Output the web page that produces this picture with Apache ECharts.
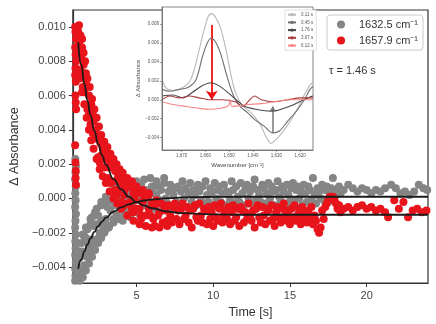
<!DOCTYPE html>
<html><head><meta charset="utf-8">
<script src="https://cdn.jsdelivr.net/npm/echarts@6/dist/echarts.min.js"></script>
<style>html,body{margin:0;padding:0;background:#fff}#c{width:436px;height:324px}</style>
</head><body><div id="c"></div>
<script>
// ---------- main kinetics data ----------
const times = [1.1,1.2,1.3,1.4,1.5,1.6,1.7,1.8,1.9,2.0,
2.1,2.2,2.3,2.4,2.5,2.6,2.7,2.8,2.9,3.0,
3.1,3.2,3.3,3.4,3.5,3.6,3.7,3.8,3.9,4.0,
4.1,4.2,4.3,4.4,4.5,4.6,4.7,4.8,4.9,5.0,
5.1,5.2,5.3,5.4,5.5,5.6,5.7,5.8,5.9,6.0,
6.1,6.2,6.3,6.4,6.5,6.6,6.7,6.8,6.9,7.0,
7.1,7.2,7.3,7.4,7.5,7.6,7.7,7.8,7.9,8.0,
8.1,8.2,8.3,8.4,8.5,8.6,8.7,8.8,8.9,9.0,
9.1,9.2,9.3,9.4,9.5,9.6,9.7,9.8,9.9,10.0,
10.1,10.2,10.3,10.4,10.5,10.6,10.7,10.8,10.9,11.0,
11.1,11.2,11.3,11.4,11.5,11.6,11.7,11.8,11.9,12.0,
12.1,12.2,12.3,12.4,12.5,12.6,12.7,12.8,12.9,13.0,
13.1,13.2,13.3,13.4,13.5,13.6,13.7,13.8,13.9,14.0,
14.1,14.2,14.3,14.4,14.5,14.6,14.7,14.8,14.9,15.0,
15.1,15.2,15.3,15.4,15.5,15.6,15.7,15.8,15.9,16.0,
16.1,16.2,16.3,16.4,16.5,16.6,16.7,16.8,16.9,17.0,
17.1,17.2,17.3,17.4,17.5,17.6,17.7,17.8,17.9,18.0,
18.1,18.2,18.3];
const grayValues = [-0.0039,-0.0044,-0.0031,-0.0042,-0.0031,-0.0039,-0.0023,-0.0026,-0.0029,-0.0015,
-0.0024,-0.0016,-0.0026,-0.0015,-0.0010,-0.0020,-0.0013,-0.0016,-0.0003,-0.0012,
-0.0005,-0.0016,-0.0007,-0.0001,-0.0012,-0.0004,-0.0009,0.0002,-0.0011,-0.0001,
0.0001,-0.0007,-0.0003,0.0004,-0.0009,0.0000,-0.0004,0.0004,0.0000,-0.0006,
0.0003,-0.0009,0.0008,0.0000,-0.0004,0.0005,-0.0003,0.0003,-0.0006,0.0007,
0.0003,-0.0006,0.0002,0.0007,-0.0001,0.0005,-0.0004,0.0009,0.0000,-0.0003,
0.0004,0.0008,-0.0005,0.0002,0.0006,-0.0002,0.0007,-0.0004,0.0004,0.0010,
0.0000,0.0006,-0.0005,0.0003,0.0009,-0.0002,0.0005,0.0002,-0.0004,0.0008,
0.0004,-0.0001,0.0007,-0.0003,0.0010,0.0002,-0.0002,0.0006,0.0003,-0.0005,
0.0009,0.0000,0.0005,0.0007,-0.0002,0.0003,0.0008,-0.0004,0.0004,0.0002,
-0.0001,0.0010,0.0005,-0.0003,0.0007,0.0001,-0.0002,0.0009,0.0003,-0.0004,
0.0006,0.0008,0.0000,0.0004,-0.0003,0.0007,0.0011,-0.0001,0.0005,0.0002,
-0.0002,0.0008,0.0006,-0.0003,0.0003,0.0009,0.0000,0.0007,0.0004,-0.0004,
0.0005,0.0010,0.0001,-0.0001,0.0007,0.0004,-0.0003,0.0008,0.0002,-0.0002,
0.0006,0.0009,-0.0001,0.0005,0.0007,0.0000,0.0004,-0.0004,0.0008,0.0003,
-0.0002,0.0007,0.0005,-0.0001,0.0012,0.0002,-0.0003,0.0006,0.0004,0.0000,
0.0008,-0.0001,0.0005,0.0007,-0.0002,0.0003,0.0006,0.0012,0.0004,0.0002,
0.0005,0.0007,0.0003];
const redValues = [0.0094,0.0097,0.0082,0.0083,0.0065,0.0070,0.0070,0.0052,0.0054,0.0043,
0.0049,0.0048,0.0035,0.0037,0.0024,0.0034,0.0025,0.0030,0.0018,0.0023,
0.0012,0.0018,0.0019,0.0010,0.0018,0.0005,0.0010,0.0005,0.0012,-0.0002,
0.0008,0.0002,0.0006,-0.0003,0.0007,-0.0002,-0.0006,0.0003,-0.0001,-0.0006,
0.0003,-0.0006,-0.0010,-0.0002,0.0000,-0.0010,0.0001,-0.0006,-0.0010,-0.0003,
-0.0012,-0.0004,-0.0001,-0.0010,-0.0008,-0.0003,-0.0014,-0.0004,-0.0007,-0.0013,
-0.0004,-0.0010,-0.0014,-0.0005,-0.0003,-0.0012,-0.0007,-0.0015,-0.0006,-0.0003,
-0.0012,-0.0010,-0.0005,-0.0014,-0.0007,-0.0017,-0.0006,-0.0004,-0.0011,-0.0013,
-0.0003,-0.0010,-0.0014,-0.0006,-0.0007,-0.0015,-0.0005,-0.0012,-0.0008,-0.0016,
-0.0004,-0.0011,-0.0013,-0.0006,-0.0003,-0.0014,-0.0010,-0.0007,-0.0012,-0.0005,
-0.0015,-0.0008,-0.0004,-0.0013,-0.0011,-0.0006,-0.0016,-0.0005,-0.0007,-0.0014,
-0.0008,-0.0012,-0.0003,-0.0010,-0.0013,-0.0007,-0.0017,-0.0006,-0.0004,-0.0011,
-0.0014,-0.0005,-0.0010,-0.0015,-0.0006,-0.0007,-0.0013,-0.0004,-0.0012,-0.0016,
-0.0008,-0.0005,-0.0011,-0.0014,-0.0006,-0.0003,-0.0010,-0.0013,-0.0007,-0.0015,
-0.0006,-0.0011,-0.0004,-0.0013,-0.0010,-0.0007,-0.0015,-0.0005,-0.0012,-0.0008,
-0.0014,-0.0007,-0.0012,-0.0005,-0.0015,-0.0010,-0.0013,-0.0018,-0.0020,-0.0017,
-0.0007,-0.0012,-0.0005,-0.0003,-0.0001,0.0001,0.0000,0.0001,-0.0001,-0.0003,
-0.0006,-0.0004,-0.0008];
const grayExtraTimes = [1.0,1.02,1.0,1.04,1.0,1.03,1.01,1.04,1.0,1.02,1.05,1.0,1.03,1.01,1.04,1.0,1.02,1.05,1.01,
1.15,1.3,1.45,1.25,1.6,1.75,1.5,1.9,2.05,1.7,2.2,2.0,2.4,2.6,2.3,2.8,2.7,3.0,3.2,3.1,3.5,3.9,4.3,4.1,4.6,5.2,5.9,5.0,4.0,
1.3,1.5,1.7,1.9,2.1,2.3,2.5,2.7,2.9,3.2,3.5,3.8,4.2,4.6,5.0,
1.4,1.6,1.8,2.1,2.4,2.7,3.0,3.3,3.6,4.4,4.8,5.5,6.3,6.8];
const grayExtraValues = [-0.0048,-0.0045,-0.0041,-0.0037,-0.0033,-0.0029,-0.0025,-0.0021,-0.0017,-0.0013,-0.0009,-0.0005,-0.0001,0.0003,0.0007,0.0011,0.0015,0.0019,0.0023,
-0.0047,-0.0046,-0.0044,-0.0035,-0.0040,-0.0034,-0.0021,-0.0033,-0.0030,-0.0017,-0.0027,-0.0012,-0.0024,-0.0022,-0.0008,-0.0020,-0.0004,-0.0018,-0.0016,-0.0001,0.0003,0.0006,0.0009,-0.0013,-0.0011,-0.0009,0.0012,0.0010,0.0004,
-0.0048,-0.0046,-0.0042,-0.0038,-0.0034,-0.0030,-0.0026,-0.0023,-0.0020,-0.0017,-0.0014,-0.0012,-0.0010,-0.0008,-0.0007,
-0.0026,-0.0022,-0.0018,-0.0011,-0.0006,-0.0002,0.0001,0.0004,0.0007,0.0010,0.0008,0.0011,0.0010,0.0012];
const redExtraTimes = [1.0,1.02,1.05,1.0,1.03,1.06,1.02,1.0,1.04,1.02,1.04,1.06,1.0,1.02,1.04,1.03,1.05,
1.3,1.45,1.35,1.55,1.6,1.75,1.9,2.05,1.85,2.2,2.35,2.5,2.15,2.65,2.8,3.0,2.6,3.2,3.4,3.6,3.3,3.8,4.0,3.7,4.3,4.6,4.2,5.0,4.8,5.4,5.3,5.8,6.2,
1.15,1.25,1.35,1.45,1.2,1.4,1.55,1.65,1.5,1.7,1.8,1.95,2.1,2.25,2.4,2.55,2.7,2.9,3.1,3.3,3.5,3.7,3.9,4.1,4.4,4.7,5.0,5.4,5.8,
1.3,1.45,1.6,1.75,1.9,2.05,2.2,2.4,2.6,2.8,3.0,3.25,3.5,3.75,4.0,4.4,4.8,5.2,5.6,6.0,6.5,7.0];
const redExtraValues = [0.0100,0.0097,0.0093,0.0088,0.0084,0.0080,0.0076,0.0072,0.0068,0.0060,0.0056,0.0052,0.0031,0.0021,0.0016,0.0012,0.0008,
0.0092,0.0088,0.0075,0.0078,0.0062,0.0066,0.0060,0.0055,0.0048,0.0045,0.0040,0.0036,0.0038,0.0032,0.0029,0.0026,0.0021,0.0022,0.0019,0.0016,0.0009,0.0013,0.0011,0.0002,0.0009,0.0007,-0.0004,0.0005,-0.0008,0.0004,-0.0012,0.0002,-0.0016,
0.0098,0.0101,0.0095,0.0093,0.0089,0.0086,0.0085,0.0080,0.0072,0.0073,0.0070,0.0065,0.0058,0.0052,0.0047,0.0042,0.0037,0.0033,0.0030,0.0026,0.0023,0.0020,0.0017,0.0015,0.0012,0.0010,0.0007,0.0005,0.0003,
0.0070,0.0062,0.0055,0.0047,0.0040,0.0034,0.0029,0.0023,0.0017,0.0013,0.0009,0.0004,0.0000,-0.0003,-0.0006,-0.0010,-0.0013,-0.0015,-0.0016,-0.0017,-0.0017,-0.0016];
const graySparseTimes = [18.5,18.8,19.1,19.4,19.7,20.0,20.3,20.6,20.9,21.2,21.6,21.9,22.2,22.5,22.8,23.1,23.4,23.7,23.95];
const graySparseValues = [0.0005,0.0008,0.0006,0.0004,0.0006,0.0005,0.0003,0.0005,0.0004,0.0006,0.0008,0.0006,0.0003,0.0004,0.0002,0.0004,0.0008,0.0006,0.0005];
const redSparseTimes = [18.5,18.8,19.1,19.4,19.7,20.0,20.3,20.6,20.9,21.2,21.4,21.8,22.1,22.4,22.7,23.0,23.3,23.6,23.9];
const redSparseValues = [-0.0006,-0.0005,-0.0007,-0.0005,-0.0004,-0.0006,-0.0005,-0.0007,-0.0006,-0.0008,-0.0011,-0.0001,-0.0006,-0.0002,-0.0011,-0.0007,-0.0006,-0.0008,-0.0007];
const fitTimes = [1.2,1.4,1.6,1.8,2.0,2.25,2.5,2.75,3.0,3.5,4.0,4.5,5.0,5.5,6.0,7.0,8.0,9.0,10.0,12.0,15.0,18.0,21.0,24.0];
const grayFit = [-0.0041,-0.00356,-0.00309,-0.00268,-0.00233,-0.00195,-0.00162,-0.00135,-0.00112,-0.00077,-0.00052,-0.00034,-0.00021,-0.00012,-0.00006,0.00002,0.00006,0.00008,0.00009,0.0001,0.0001,0.0001,0.0001,0.0001];
const redFit = [0.0091,0.00781,0.00669,0.00571,0.00486,0.00395,0.00317,0.00253,0.00197,0.00113,0.00053,0.0001,-0.00021,-0.00042,-0.00057,-0.00076,-0.00085,-0.0009,-0.00093,-0.00095,-0.00095,-0.00095,-0.00095,-0.00095];
const seriesNames = ['1632.5 cm\u207B\u00B9', '1657.9 cm\u207B\u00B9'];
const tauText = '\u03C4 = 1.46 s';
const mainXTicks = [5,10,15,20];
const mainYTicks = [-0.004,-0.002,0,0.002,0.004,0.006,0.008,0.010];

// ---------- inset spectra ----------
const spectrumNames = ['0.11 s','0.45 s','1.76 s','3.07 s','6.12 s'];
const specAW = [1678.3,1676.4,1672.9,1669.5,1666.7,1664.7,1662.6,1660.5,1658.8,1657.4,1655.7,1653.6,1651.3,1649.1,1647.2,1644.7,1640.6,1637.1,1634.4,1632.3,1630.2,1626.8,1622.6,1618.5,1616.0,1614.6];
const specAV = [0.0022,0.0012,0.0010,0.0013,0.0019,0.0032,0.0053,0.0074,0.0088,0.0091,0.0087,0.0076,0.0053,0.0025,0.0007,-0.0005,-0.0014,-0.0025,-0.0039,-0.0046,-0.0042,-0.0032,-0.0016,0.0004,0.0015,0.0019];
const specBW = [1678.3,1675.0,1670.9,1667.4,1664.0,1661.2,1659.2,1657.5,1655.7,1653.6,1650.9,1648.1,1645.4,1642.0,1639.2,1635.1,1631.6,1628.8,1625.4,1621.3,1617.8,1615.9,1614.6];
const specBV = [0.0011,0.0009,0.0011,0.0013,0.0021,0.0046,0.0060,0.0065,0.0061,0.0049,0.0025,0.0004,-0.0007,-0.0014,-0.0021,-0.0028,-0.0035,-0.0033,-0.0023,-0.0011,0.0002,0.0011,0.0014];
const specCW = [1678.3,1673.6,1669.5,1665.4,1661.2,1657.8,1654.3,1650.2,1646.1,1643.3,1636.4,1631.6,1626.8,1622.6,1618.5,1615.9,1614.6];
const specCV = [0.0004,0.0005,0.0002,0.0008,0.0015,0.0018,0.0015,0.0007,-0.0002,-0.0007,-0.0011,-0.0012,-0.0009,-0.0005,0.0000,0.0003,0.0004];
const specDW = [1678.3,1675.0,1670.9,1666.8,1662.6,1657.8,1653.0,1647.5,1644.1,1642.0,1639.2,1636.4,1630.9,1625.4,1619.9,1614.6];
const specDV = [0.0000,0.0004,0.0002,0.0004,0.0002,0.0000,0.0000,-0.0002,-0.0007,-0.0002,0.0004,0.0000,-0.0002,0.0000,0.0002,0.0002];
const specEW = [1678.3,1673.6,1668.1,1662.6,1657.8,1653.6,1650.2,1649.5,1648.8,1645.4,1642.0,1636.4,1630.9,1624.0,1614.6];
const specEV = [-0.0002,-0.0005,-0.0007,-0.0009,-0.0010,-0.0009,-0.0006,0.0000,-0.0007,-0.0006,-0.0005,-0.0004,-0.0002,0.0000,0.0000];
const redArrow = {w: 1657.3, from: 0.0079, to: 0.0000};
const grayArrow = {w: 1631.6, from: -0.0035, to: -0.0007};
const insetXTicks = [1620,1630,1640,1650,1660,1670];
const insetYTicks = [-0.004,-0.002,0,0.002,0.004,0.006,0.008];

// ---------- build ----------
const FONT = 'Liberation Sans, Arial, Helvetica, sans-serif';
const pairs = (xs, ys) => xs.map((x, i) => [x, ys[i]]);
const fmt3 = v => (v < 0 ? '\u2212' : '') + Math.abs(v).toFixed(3);

const grayData = pairs(grayExtraTimes, grayExtraValues).concat(pairs(times, grayValues), pairs(graySparseTimes, graySparseValues));
const redData = pairs(redExtraTimes, redExtraValues).concat(pairs(times, redValues), pairs(redSparseTimes, redSparseValues));

const specColors = ['#b8b8b8','#707070','#484848','#a83c3c','#f58787'];
const specSets = [[specAW,specAV],[specBW,specBV],[specCW,specCV],[specDW,specDV],[specEW,specEV]];

const specSeries = specSets.map((s, i) => ({
  name: spectrumNames[i], type: 'line', xAxisIndex: 1, yAxisIndex: 1,
  data: pairs(s[0], s[1]), smooth: 0.3, symbol: 'none', z: 5,
  lineStyle: {color: specColors[i], width: 1.1}, itemStyle: {color: specColors[i]},
  silent: true, animation: false
}));
specSeries[0].markLine = {
  silent: true, symbol: ['none','arrow'], symbolSize: 9, animation: false,
  label: {show: false},
  lineStyle: {color: '#ee1111', width: 1.8, type: 'solid'},
  data: [[{coord: [redArrow.w, redArrow.from]}, {coord: [redArrow.w, redArrow.to]}]]
};
specSeries[1].markLine = {
  silent: true, symbol: ['none','arrow'], symbolSize: 5, animation: false,
  label: {show: false},
  lineStyle: {color: '#777', width: 1.5, type: 'solid'},
  data: [[{coord: [grayArrow.w, grayArrow.from]}, {coord: [grayArrow.w, grayArrow.to]}]]
};

const chart = echarts.init(document.getElementById('c'), null, {renderer: 'canvas'});
chart.setOption({
  animation: false,
  backgroundColor: '#fff',
  textStyle: {fontFamily: FONT},
  grid: [
    {left: 60, top: 10, right: 8, bottom: 41, show: true, borderColor: '#333', borderWidth: 1.2, backgroundColor: 'transparent'},
    {left: 162, top: 7, width: 151, height: 143, show: true, borderColor: '#666', borderWidth: 0.8, backgroundColor: '#fff', z: 4}
  ],
  xAxis: [
    {gridIndex: 0, type: 'value', min: 0.85, max: 24.0,
     name: 'Time [s]', nameLocation: 'middle', nameGap: 22,
     nameTextStyle: {fontSize: 12.5, color: '#333', fontFamily: FONT},
     axisLine: {show: true, onZero: false, lineStyle: {color: '#333', width: 1.2}},
     axisTick: {show: true, length: 4, customValues: mainXTicks, lineStyle: {color: '#333'}},
     axisLabel: {customValues: mainXTicks, fontSize: 11, color: '#444', margin: 7, fontFamily: FONT},
     splitLine: {show: false}},
    {gridIndex: 1, type: 'value', inverse: true, min: 1614.6, max: 1678.3,
     name: 'Wavenumber [cm\u207B\u00B9]', nameLocation: 'middle', nameGap: 12,
     nameTextStyle: {fontSize: 6, color: '#444', fontFamily: FONT},
     axisLine: {show: true, onZero: false, lineStyle: {color: '#666', width: 0.8}},
     axisTick: {show: true, length: 2, customValues: insetXTicks, lineStyle: {color: '#666', width: 0.6}},
     axisLabel: {customValues: insetXTicks, fontSize: 4.5, color: '#555', margin: 3, fontFamily: FONT},
     splitLine: {show: false}, z: 6}
  ],
  yAxis: [
    {gridIndex: 0, type: 'value', min: -0.00493, max: 0.01099,
     name: '\u0394 Absorbance', nameLocation: 'middle', nameGap: 41,
     nameTextStyle: {fontSize: 12.5, color: '#333', fontFamily: FONT},
     axisLine: {show: true, onZero: false, lineStyle: {color: '#333', width: 1.2}},
     axisTick: {show: true, length: 4, customValues: mainYTicks, lineStyle: {color: '#333'}},
     axisLabel: {customValues: mainYTicks, fontSize: 11, color: '#444', margin: 7, formatter: fmt3, fontFamily: FONT},
     splitLine: {show: false}},
    {gridIndex: 1, type: 'value', min: -0.0053, max: 0.0098,
     name: '\u0394 Absorbance', nameLocation: 'middle', nameGap: 17,
     nameTextStyle: {fontSize: 6, color: '#444', fontFamily: FONT},
     axisLine: {show: true, onZero: false, lineStyle: {color: '#666', width: 0.8}},
     axisTick: {show: true, length: 2, customValues: insetYTicks, lineStyle: {color: '#666', width: 0.6}},
     axisLabel: {customValues: insetYTicks, fontSize: 4.5, color: '#555', margin: 3, formatter: fmt3, fontFamily: FONT},
     splitLine: {show: false}, z: 6}
  ],
  legend: [
    {data: seriesNames, orient: 'vertical', left: 327, top: 15,
     padding: [3, 5, 3, 10], itemGap: 3, itemWidth: 8, itemHeight: 8, icon: 'circle',
     borderColor: '#ccc', borderWidth: 1, borderRadius: 3, backgroundColor: '#fff',
     textStyle: {fontSize: 11, color: '#333', fontFamily: FONT, padding: [0, 0, 0, 9], lineHeight: 13},
     selectedMode: false},
    {data: spectrumNames, orient: 'vertical', left: 285, top: 10,
     padding: [2, 3, 2, 2], itemGap: 2.3, itemWidth: 8, itemHeight: 4,
     borderColor: '#ccc', borderWidth: 0.6, backgroundColor: '#fff',
     textStyle: {fontSize: 4.5, color: '#555', fontFamily: FONT, lineHeight: 5.4},
     selectedMode: false, z: 8}
  ],
  graphic: [
    {type: 'text', left: 329, top: 65, style: {text: tauText, fontSize: 11, fill: '#333', fontFamily: FONT}}
  ],
  series: [
    {name: seriesNames[0], type: 'scatter', xAxisIndex: 0, yAxisIndex: 0, data: grayData,
     symbolSize: 8, itemStyle: {color: '#858585', opacity: 1}, silent: true},
    {name: 'grayFit', type: 'line', xAxisIndex: 0, yAxisIndex: 0, data: pairs(fitTimes, grayFit),
     smooth: true, smoothMonotone: 'x', symbol: 'none', lineStyle: {color: '#1a1a1a', width: 1.8}, silent: true},
    {name: seriesNames[1], type: 'scatter', xAxisIndex: 0, yAxisIndex: 0, data: redData,
     symbolSize: 8, itemStyle: {color: '#e8141c', opacity: 1}, silent: true},
    {name: 'redFit', type: 'line', xAxisIndex: 0, yAxisIndex: 0, data: pairs(fitTimes, redFit),
     smooth: true, smoothMonotone: 'x', symbol: 'none', lineStyle: {color: '#1a1a1a', width: 1.8}, silent: true}
  ].concat(specSeries)
});
</script>
</body></html>
